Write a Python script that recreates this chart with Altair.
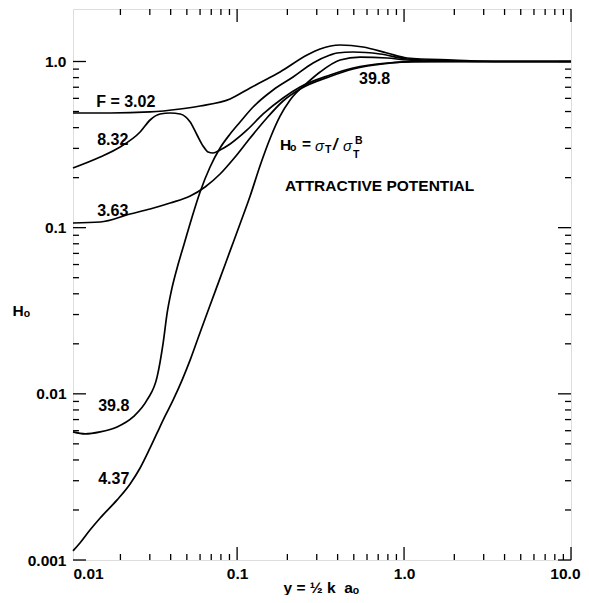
import altair as alt
import pandas as pd

# ---------------- data ----------------
X_MIN, X_MAX = 0.0104, 10.0
Y_MIN, Y_MAX = 0.001, 2.07

f302_x = [0.0104, 0.0174, 0.0301, 0.0456, 0.0600, 0.0908, 0.1197, 0.1513, 0.1808, 0.2625, 0.3141, 0.4139, 0.568, 0.791, 1.042, 1.966, 3.76, 10.0]
f302_y = [0.490, 0.490, 0.497, 0.518, 0.540, 0.595, 0.693, 0.785, 0.865, 1.094, 1.189, 1.257, 1.222, 1.125, 1.050, 1.021, 1.0, 1.0]

f832_x = [0.0104, 0.01513, 0.01992, 0.02624, 0.03012, 0.03458, 0.03972, 0.0456, 0.05236, 0.05757, 0.06252, 0.06699, 0.07178, 0.07907, 0.09079, 0.1148, 0.1432, 0.1885, 0.2384, 0.3606, 0.4953, 0.7914, 1.132, 1.966, 10.0]
f832_y = [0.2287, 0.2663, 0.3059, 0.3765, 0.4446, 0.4832, 0.4900, 0.4832, 0.4325, 0.3612, 0.3102, 0.2854, 0.2815, 0.2934, 0.3189, 0.3871, 0.4832, 0.6031, 0.7023, 0.8295, 0.9140, 0.9795, 0.997, 1.0, 1.0]

f363_x = [0.0104, 0.01513, 0.02286, 0.03012, 0.03972, 0.05236, 0.06429, 0.07907, 0.09727, 0.1197, 0.1472, 0.1885, 0.2384, 0.3606, 0.4953, 0.7914, 1.132, 1.966, 10.0]
f363_y = [0.1067, 0.1082, 0.1209, 0.1296, 0.1408, 0.1551, 0.1758, 0.2104, 0.2663, 0.3465, 0.4446, 0.5786, 0.6832, 0.8125, 0.9014, 0.9727, 0.997, 1.0, 1.0]

f398_x = [0.0104, 0.0123, 0.01513, 0.01911, 0.02383, 0.02889, 0.03318, 0.03605, 0.03811, 0.04025, 0.04372, 0.04816, 0.05375, 0.06001, 0.06887, 0.07907, 0.09079, 0.1042, 0.1247, 0.1643, 0.2164, 0.2852, 0.3606, 0.3971, 0.4953, 0.7186, 1.042, 1.966, 3.757, 10.0]
f398_y = [0.00590, 0.00574, 0.00590, 0.00632, 0.00726, 0.00919, 0.01264, 0.0202, 0.0307, 0.04102, 0.05722, 0.07976, 0.1160, 0.1640, 0.2318, 0.3017, 0.3662, 0.4325, 0.5324, 0.6738, 0.8067, 0.9795, 1.094, 1.125, 1.141, 1.110, 1.035, 1.007, 1.0, 1.0]

f437_x = [0.0104, 0.01148, 0.01318, 0.01513, 0.01911, 0.02286, 0.02624, 0.03012, 0.03318, 0.03707, 0.04141, 0.04688, 0.05236, 0.06001, 0.06887, 0.07907, 0.09079, 0.1042, 0.1197, 0.1374, 0.1578, 0.1808, 0.2077, 0.2625, 0.3141, 0.4139, 0.5453, 0.7914, 1.042, 1.966, 10.0]
f437_y = [0.001135, 0.00127, 0.00152, 0.00179, 0.00230, 0.00287, 0.00358, 0.00473, 0.00582, 0.00736, 0.00919, 0.01213, 0.0160, 0.0234, 0.0341, 0.0497, 0.0725, 0.1056, 0.1552, 0.2366, 0.3451, 0.4686, 0.5866, 0.7425, 0.8646, 1.021, 1.064, 1.050, 1.021, 1.0, 1.0]

series_names = ["3.02", "8.32", "3.63", "39.8", "4.37"]
series_x = [f302_x, f832_x, f363_x, f398_x, f437_x]
series_y = [f302_y, f832_y, f363_y, f398_y, f437_y]

# tick values
x_minor = [0.02, 0.03, 0.04, 0.05, 0.06, 0.07, 0.08, 0.09,
           0.2, 0.3, 0.4, 0.5, 0.6, 0.7, 0.8, 0.9,
           2, 3, 4, 5, 6, 7, 8, 9]
x_major = [0.1, 1.0, 10.0]
x_label_values = [X_MIN, 0.1, 1.0, 10.0]
y_minor = [0.002, 0.003, 0.004, 0.005, 0.006, 0.007, 0.008, 0.009,
           0.02, 0.03, 0.04, 0.05, 0.06, 0.07, 0.08, 0.09,
           0.2, 0.3, 0.4, 0.5, 0.6, 0.7, 0.8, 0.9]
y_major = [0.001, 0.01, 0.1, 1.0]

# curve labels
label_text = ["F = 3.02", "8.32", "3.63", "39.8", "4.37", "39.8"]
label_x = [0.01432, 0.01452, 0.01452, 0.01472, 0.01472, 0.5376]
label_y = [0.5706, 0.3371, 0.1260, 0.008457, 0.003076, 0.7848]

# formula  H_o = sigma_T / sigma_T^B  (pieces)
fm_main_text = ["H", "="]
fm_main_x = [0.1809, 0.2449]
fm_main_y = [0.3145, 0.3189]
fm_sub_text = ["o", "T", "T", "B"]
fm_sub_x = [0.2077, 0.3365, 0.4953, 0.5088]
fm_sub_y = [0.3017, 0.2934, 0.2738, 0.3324]
fm_sig_text = ["σ", "σ"]
fm_sig_x = [0.2932, 0.4312]
fm_sig_y = [0.3102, 0.3102]
fm_slash_text = ["/"]
fm_slash_x = [0.3757]
fm_slash_y = [0.3145]

note_text = ["ATTRACTIVE POTENTIAL"]
note_x = [0.1939]
note_y = [0.1782]

# ---------------- chart ----------------
W, H = 498, 551
FONT = "Liberation Sans"

xscale = alt.Scale(type="log", domain=[X_MIN, X_MAX], nice=False, zero=False)
yscale = alt.Scale(type="log", domain=[Y_MIN, Y_MAX], nice=False, zero=False)

x_axis = alt.Axis(
    values=x_label_values,
    labelExpr="datum.value < 0.05 ? '0.01' : (datum.value < 0.5 ? '0.1' : format(datum.value, '.1f'))",
    labelAlign={"condition": [{"test": "datum.value < 0.05", "value": "left"},
                              {"test": "datum.value > 5", "value": "right"}],
                "value": "center"},
    labelOffset={"condition": {"test": "datum.value > 5", "value": 9}, "value": 0},
    ticks=False, domain=False, grid=False,
    labelFont=FONT, labelFontWeight="bold", labelFontSize=15.5, labelColor="black",
    labelPadding=6, labelFlush=False, labelOverlap=False,
    title="y = ½ k\u00a0\u00a0aₒ", titleFont=FONT, titleFontWeight="bold", titleFontSize=15.5,
    titleColor="black", titleAlign="left", titleBaseline="middle", titleX=210, titleY=27,
)
y_axis = alt.Axis(
    values=y_major,
    labelExpr="datum.value >= 0.99 ? '1.0' : format(datum.value, '~g')",
    ticks=False, domain=False, grid=False,
    labelFont=FONT, labelFontWeight="bold", labelFontSize=15.5, labelColor="black",
    labelPadding=7, labelFlush=False, labelOverlap=False,
    title="Hₒ", titleFont=FONT, titleFontWeight="bold", titleFontSize=15.5, titleColor="black",
    titleAngle=0, titleAlign="left", titleBaseline="middle", titleX=-61, titleY=301,
)


def X(field="x"):
    return alt.X(f"{field}:Q", scale=xscale, axis=x_axis)


def Y(field="y"):
    return alt.Y(f"{field}:Q", scale=yscale, axis=y_axis)


rows = []
for name, xs, ys in zip(series_names, series_x, series_y):
    for i, (a, b) in enumerate(zip(xs, ys)):
        rows.append({"series": name, "x": a, "y": b, "i": i})
curves_df = pd.DataFrame(rows)

curves = alt.Chart(curves_df).mark_line(
    color="black", strokeWidth=1.7, interpolate="monotone"
).encode(x=X(), y=Y(), detail="series:N", order="i:Q")

MAJOR, MINOR = 13, 6


def xticks(values, length):
    df = pd.DataFrame({"x": values})
    bottom = alt.Chart(df).mark_rule(color="black", strokeWidth=1.3).encode(
        x=X(), y=alt.value(H), y2=alt.value(H - length))
    top = alt.Chart(df).mark_rule(color="black", strokeWidth=1.3).encode(
        x=X(), y=alt.value(0), y2=alt.value(length))
    return [bottom, top]


def yticks(values, length):
    df = pd.DataFrame({"y": values})
    left = alt.Chart(df).mark_rule(color="black", strokeWidth=1.3).encode(
        y=Y(), x=alt.value(0), x2=alt.value(length))
    right = alt.Chart(df).mark_rule(color="black", strokeWidth=1.3).encode(
        y=Y(), x=alt.value(W), x2=alt.value(W - length))
    return [left, right]


tick_layers = xticks(x_minor, MINOR) + xticks(x_major, MAJOR) + yticks(y_minor, MINOR) + yticks(y_major, MAJOR)


def text_layer(texts, xs, ys, size, weight="bold", style="normal"):
    df = pd.DataFrame({"t": texts, "x": xs, "y": ys})
    return alt.Chart(df).mark_text(
        align="left", baseline="middle", font=FONT, fontSize=size,
        fontWeight=weight, fontStyle=style, color="black"
    ).encode(x=X(), y=Y(), text="t:N")


labels = text_layer(label_text, label_x, label_y, 16)
note = text_layer(note_text, note_x, note_y, 15.5)
fm_main = text_layer(fm_main_text, fm_main_x, fm_main_y, 15.5)
fm_sub = text_layer(fm_sub_text, fm_sub_x, fm_sub_y, 10.5)
fm_sig = text_layer(fm_sig_text, fm_sig_x, fm_sig_y, 15, weight="normal", style="italic")
fm_slash = text_layer(fm_slash_text, fm_slash_x, fm_slash_y, 16, weight="bold", style="italic")

chart = alt.layer(
    *tick_layers, curves, labels, note, fm_main, fm_sub, fm_sig, fm_slash
).properties(
    width=W, height=H,
    autosize=alt.AutoSizeParams(type="none"),
    padding={"left": 65, "top": 1, "right": 10, "bottom": 35},
).configure_view(
    stroke="black", strokeWidth=1.5
).configure(background="white")

chart.save("out.html", embed_options={"renderer": "svg", "actions": False})
